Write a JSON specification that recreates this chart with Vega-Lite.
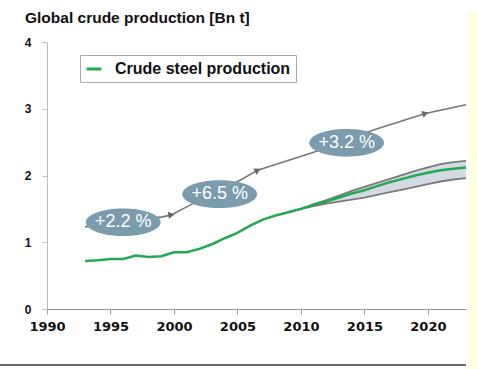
{
  "$schema": "https://vega.github.io/schema/vega-lite/v6.json",
  "width": 419,
  "height": 267,
  "autosize": {"type": "none"},
  "padding": {"left": 47, "top": 42, "right": 11, "bottom": 60},
  "background": "white",
  "title": {
    "text": "Global crude production [Bn t]",
    "anchor": "start",
    "frame": "group",
    "dx": -22,
    "offset": -15,
    "font": "Liberation Sans",
    "fontSize": 15.5,
    "fontWeight": "bold",
    "color": "#111"
  },
  "config": {
    "view": {"stroke": null},
    "axis": {"grid": false}
  },
  "datasets": {
    "steel": [
      {"year": 1993, "v": 0.72}, {"year": 1994, "v": 0.73}, {"year": 1995, "v": 0.75},
      {"year": 1996, "v": 0.75}, {"year": 1997, "v": 0.80}, {"year": 1998, "v": 0.78},
      {"year": 1999, "v": 0.79}, {"year": 2000, "v": 0.85}, {"year": 2001, "v": 0.85},
      {"year": 2002, "v": 0.90}, {"year": 2003, "v": 0.97}, {"year": 2004, "v": 1.06},
      {"year": 2005, "v": 1.14}, {"year": 2006, "v": 1.25}, {"year": 2007, "v": 1.34},
      {"year": 2008, "v": 1.40}, {"year": 2009, "v": 1.45}, {"year": 2010, "v": 1.50},
      {"year": 2011, "v": 1.56}, {"year": 2012, "v": 1.61}, {"year": 2013, "v": 1.67},
      {"year": 2014, "v": 1.73}, {"year": 2015, "v": 1.78}, {"year": 2016, "v": 1.84},
      {"year": 2017, "v": 1.90}, {"year": 2018, "v": 1.95}, {"year": 2019, "v": 2.00},
      {"year": 2020, "v": 2.04}, {"year": 2021, "v": 2.08}, {"year": 2022, "v": 2.10},
      {"year": 2023, "v": 2.12}
    ],
    "band": [
      {"year": 2009, "lo": 1.45, "hi": 1.45}, {"year": 2010, "lo": 1.50, "hi": 1.50},
      {"year": 2011, "lo": 1.54, "hi": 1.57}, {"year": 2012, "lo": 1.58, "hi": 1.63},
      {"year": 2013, "lo": 1.61, "hi": 1.70}, {"year": 2014, "lo": 1.64, "hi": 1.77},
      {"year": 2015, "lo": 1.67, "hi": 1.83}, {"year": 2016, "lo": 1.71, "hi": 1.89},
      {"year": 2017, "lo": 1.75, "hi": 1.95}, {"year": 2018, "lo": 1.79, "hi": 2.01},
      {"year": 2019, "lo": 1.83, "hi": 2.07}, {"year": 2020, "lo": 1.87, "hi": 2.12},
      {"year": 2021, "lo": 1.91, "hi": 2.17}, {"year": 2022, "lo": 1.94, "hi": 2.20},
      {"year": 2023, "lo": 1.96, "hi": 2.22}
    ],
    "trend": [
      {"year": 1993, "v": 1.23}, {"year": 1999.1, "v": 1.38}, {"year": 1999.8, "v": 1.41},
      {"year": 2001.3, "v": 1.56}, {"year": 2005.2, "v": 1.93}, {"year": 2006.6, "v": 2.08},
      {"year": 2011, "v": 2.35}, {"year": 2015.7, "v": 2.68}, {"year": 2019.8, "v": 2.93},
      {"year": 2023, "v": 3.06}
    ],
    "labels": [
      {"year": 1996.0, "v": 1.30, "label": "+2.2 %"},
      {"year": 2003.6, "v": 1.72, "label": "+6.5 %"},
      {"year": 2013.6, "v": 2.49, "label": "+3.2 %"}
    ],
    "arrows": [
      {"year": 1999.8, "v": 1.41, "seg": "a"},
      {"year": 2006.6, "v": 2.08, "seg": "b"},
      {"year": 2019.8, "v": 2.93, "seg": "c"}
    ],
    "strip": [{"x1": 2023.2, "x2": 2024, "y1": 4.45, "y2": -0.95}],
    "baseline": [{"x1": 1986.3, "x2": 2023, "y": -0.84}]
  },
  "layer": [
    {
      "data": {"name": "strip"},
      "mark": {"type": "rect", "color": "#ffffe4", "clip": false},
      "encoding": {
        "x": {"field": "x1", "type": "quantitative", "scale": {"domain": [1990, 2023]}},
        "x2": {"field": "x2"},
        "y": {"field": "y1", "type": "quantitative", "scale": {"domain": [0, 4]}},
        "y2": {"field": "y2"}
      }
    },
    {
      "data": {"name": "baseline"},
      "mark": {"type": "rule", "color": "#333", "strokeWidth": 1.5, "clip": false},
      "encoding": {
        "x": {"field": "x1", "type": "quantitative"},
        "x2": {"field": "x2"},
        "y": {"field": "y", "type": "quantitative"}
      }
    },
    {
      "data": {"name": "band"},
      "mark": {"type": "area", "color": "#d3dae3", "opacity": 1},
      "encoding": {
        "x": {"field": "year", "type": "quantitative"},
        "y": {"field": "lo", "type": "quantitative"},
        "y2": {"field": "hi"}
      }
    },
    {
      "data": {"name": "band"},
      "mark": {"type": "line", "color": "#7a7a7a", "strokeWidth": 1.8},
      "encoding": {
        "x": {"field": "year", "type": "quantitative"},
        "y": {"field": "hi", "type": "quantitative"}
      }
    },
    {
      "data": {"name": "band"},
      "mark": {"type": "line", "color": "#7a7a7a", "strokeWidth": 1.8},
      "encoding": {
        "x": {"field": "year", "type": "quantitative"},
        "y": {"field": "lo", "type": "quantitative"}
      }
    },
    {
      "data": {"name": "steel"},
      "mark": {"type": "line", "strokeWidth": 2.5},
      "encoding": {
        "x": {
          "field": "year", "type": "quantitative",
          "scale": {"domain": [1990, 2023], "nice": false, "zero": false},
          "axis": {
            "title": null,
            "values": [1990, 1995, 2000, 2005, 2010, 2015, 2020],
            "format": "d",
            "domainColor": "#999",
            "tickColor": "#999",
            "tickSize": 5,
            "labelFont": "DejaVu Sans",
            "labelFontWeight": "bold",
            "labelFontSize": 13,
            "labelColor": "#111",
            "labelPadding": 6,
            "labelFlush": false
          }
        },
        "y": {
          "field": "v", "type": "quantitative",
          "scale": {"domain": [0, 4], "nice": false},
          "axis": {
            "title": null,
            "values": [0, 1, 2, 3, 4],
            "format": "d",
            "domainColor": "#bbb",
            "tickColor": "#bbb",
            "tickSize": 5,
            "labelFont": "Liberation Sans",
            "labelFontWeight": "bold",
            "labelFontSize": 12,
            "labelColor": "#111",
            "labelPadding": 11
          }
        },
        "color": {
          "datum": "Crude steel production",
          "scale": {"domain": ["Crude steel production"], "range": ["#23a94f"]},
          "legend": {
            "title": null,
            "orient": "none",
            "legendX": 33,
            "legendY": 13,
            "padding": 5,
            "strokeColor": "#aaa",
            "fillColor": "white",
            "symbolType": "stroke",
            "symbolStrokeWidth": 3,
            "symbolSize": 220,
            "labelFont": "Liberation Sans",
            "labelFontWeight": "bold",
            "labelFontSize": 16,
            "labelLimit": 400,
            "labelColor": "#111",
            "labelOffset": 12
          }
        }
      }
    },
    {
      "data": {"name": "trend"},
      "mark": {"type": "line", "color": "#777", "strokeWidth": 1.6},
      "encoding": {
        "x": {"field": "year", "type": "quantitative"},
        "y": {"field": "v", "type": "quantitative"}
      }
    },
    {
      "data": {"name": "arrows"},
      "transform": [{"filter": "datum.seg == 'a'"}],
      "mark": {"type": "point", "shape": "triangle-right", "filled": true, "color": "#666", "size": 50, "opacity": 1, "angle": -8},
      "encoding": {
        "x": {"field": "year", "type": "quantitative"},
        "y": {"field": "v", "type": "quantitative"}
      }
    },
    {
      "data": {"name": "arrows"},
      "transform": [{"filter": "datum.seg == 'b'"}],
      "mark": {"type": "point", "shape": "triangle-right", "filled": true, "color": "#666", "size": 50, "opacity": 1, "angle": -27},
      "encoding": {
        "x": {"field": "year", "type": "quantitative"},
        "y": {"field": "v", "type": "quantitative"}
      }
    },
    {
      "data": {"name": "arrows"},
      "transform": [{"filter": "datum.seg == 'c'"}],
      "mark": {"type": "point", "shape": "triangle-right", "filled": true, "color": "#666", "size": 50, "opacity": 1, "angle": -18},
      "encoding": {
        "x": {"field": "year", "type": "quantitative"},
        "y": {"field": "v", "type": "quantitative"}
      }
    },
    {
      "data": {"name": "labels"},
      "mark": {"type": "point", "shape": "M -1 0 A 1 0.37 0 1 0 1 0 A 1 0.37 0 1 0 -1 0 Z", "filled": true, "color": "#7b9cad", "size": 5600, "opacity": 1},
      "encoding": {
        "x": {"field": "year", "type": "quantitative"},
        "y": {"field": "v", "type": "quantitative"}
      }
    },
    {
      "data": {"name": "labels"},
      "mark": {"type": "text", "color": "white", "font": "Liberation Sans", "fontSize": 18, "baseline": "middle", "align": "center"},
      "encoding": {
        "x": {"field": "year", "type": "quantitative"},
        "y": {"field": "v", "type": "quantitative"},
        "text": {"field": "label"}
      }
    }
  ]
}
